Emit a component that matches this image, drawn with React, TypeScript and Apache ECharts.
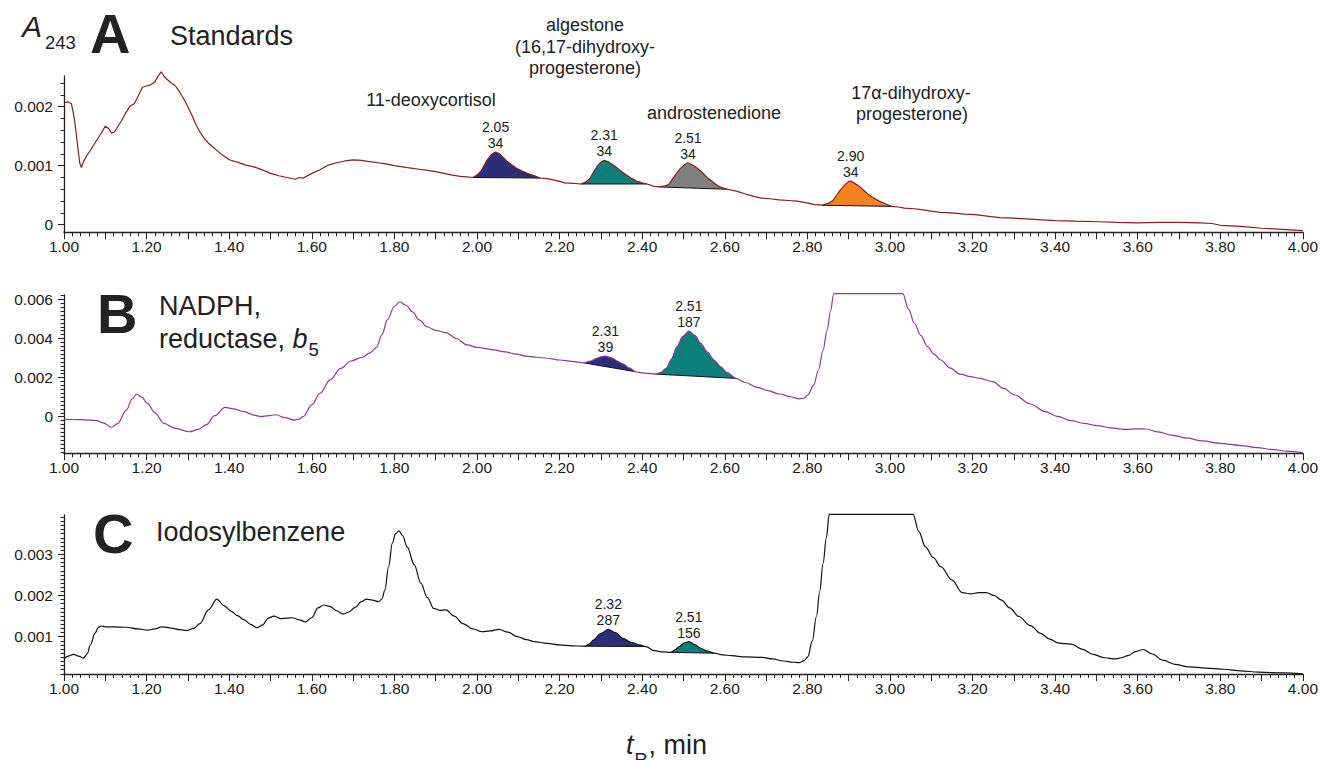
import React, { useEffect, useRef } from 'react';
import * as echarts from 'echarts';

const FONT = '"Liberation Sans", Arial, Helvetica, sans-serif';
const INK = '#1a1a1a';

// ---------- x axis (retention time, min) ----------
const X_MIN = 1.0;
const X_MAX = 4.0;
const X_STEP = 0.1;

// ---------- Panel A: Standards (absorbance ×10⁻³) ----------
const tA = [
  1.0, 1.01, 1.018, 1.025, 1.032, 1.038, 1.042, 1.048, 1.055, 1.062, 1.07, 1.08, 1.09, 1.1, 1.108, 1.115, 1.122, 1.13,
  1.14, 1.15, 1.16, 1.17, 1.18, 1.19, 1.2, 1.21, 1.22, 1.228, 1.235, 1.242, 1.25, 1.26, 1.27, 1.28, 1.29, 1.3, 1.31,
  1.32, 1.33, 1.34, 1.35, 1.36, 1.37, 1.38, 1.39, 1.4, 1.42, 1.44, 1.46, 1.48, 1.5, 1.52, 1.54, 1.56, 1.57, 1.58, 1.6,
  1.62, 1.64, 1.66, 1.68, 1.7, 1.72, 1.74, 1.76, 1.78, 1.8, 1.82, 1.84, 1.86, 1.88, 1.9, 1.92, 1.94, 1.96, 1.975,
  1.99, 2.0, 2.01, 2.023, 2.035, 2.045, 2.055, 2.062, 2.072, 2.083, 2.095, 2.109, 2.122, 2.135, 2.153,
  2.17, 2.19, 2.213, 2.235,
  2.252, 2.265, 2.274, 2.283, 2.291, 2.3, 2.308, 2.32, 2.334, 2.347, 2.36, 2.373, 2.386, 2.4, 2.412,
  2.429,
  2.442, 2.455, 2.464, 2.472, 2.481, 2.492, 2.503, 2.511, 2.522, 2.533, 2.546, 2.559, 2.572, 2.585, 2.597, 2.607,
  2.628, 2.65, 2.67, 2.689, 2.71, 2.732, 2.755, 2.775, 2.798, 2.818,
  2.835, 2.85, 2.862, 2.87, 2.879, 2.89, 2.9, 2.905, 2.915, 2.926, 2.937, 2.948, 2.961, 2.974, 2.99, 3.004,
  3.02, 3.035, 3.06, 3.08, 3.1, 3.121, 3.15, 3.18, 3.207, 3.24, 3.266, 3.3, 3.35, 3.4, 3.45, 3.508, 3.55, 3.6, 3.65,
  3.7, 3.751, 3.78, 3.8, 3.85, 3.9, 3.95, 4.0,
];
const absA = [
  2.07, 2.08, 2.05, 1.8, 1.4, 1.05, 0.97, 1.08, 1.17, 1.24, 1.33, 1.44, 1.55, 1.67, 1.63, 1.55, 1.57, 1.66,
  1.77, 1.9, 2.01, 2.05, 2.18, 2.33, 2.35, 2.37, 2.42, 2.52, 2.59, 2.52, 2.46, 2.4, 2.35, 2.25, 2.13, 2.0, 1.85,
  1.69, 1.56, 1.46, 1.38, 1.32, 1.26, 1.2, 1.15, 1.1, 1.06, 1.01, 0.98, 0.93, 0.87, 0.83, 0.8, 0.77, 0.8, 0.79, 0.87,
  0.93, 1.01, 1.05, 1.08, 1.1, 1.09, 1.07, 1.05, 1.03, 1.0, 0.98, 0.96, 0.94, 0.92, 0.9, 0.87, 0.84, 0.82, 0.81,
  0.8, 0.84, 0.91, 1.08, 1.19, 1.23, 1.2, 1.15, 1.08, 1.02, 0.96, 0.91, 0.87, 0.84, 0.79,
  0.78, 0.75, 0.71, 0.7,
  0.69, 0.73, 0.79, 0.9, 0.99, 1.06, 1.09, 1.06, 0.99, 0.92, 0.85, 0.79, 0.74, 0.71, 0.69,
  0.65,
  0.64, 0.66, 0.68, 0.76, 0.85, 0.95, 1.02, 1.05, 1.01, 0.96, 0.88, 0.79, 0.72, 0.65, 0.62, 0.6,
  0.57, 0.52, 0.48, 0.45, 0.44, 0.42, 0.41, 0.4, 0.37, 0.34,
  0.33, 0.36, 0.41, 0.49, 0.58, 0.67, 0.73, 0.74, 0.7, 0.65, 0.58, 0.51, 0.45, 0.4, 0.35, 0.31,
  0.3, 0.28, 0.27, 0.25, 0.23, 0.21, 0.2, 0.18, 0.17, 0.14, 0.12, 0.11, 0.09, 0.07, 0.06, 0.05, 0.04, 0.03, 0.04,
  0.04, 0.03, 0.02, -0.01, -0.03, -0.06, -0.08, -0.1,
];
const peakStartA = [1.99, 2.252, 2.442, 2.835];
const peakEndA = [2.153, 2.412, 2.607, 3.004];
const peakRtA = ['2.05', '2.31', '2.51', '2.90'];
const peakAreaA = ['34', '34', '34', '34'];
const peakColorA = ['#2b2e78', '#0c7f7a', '#808080', '#f5821f'];
const yTicksA = [0, 1, 2];
const yRangeA = [-0.129, 2.52];

// ---------- Panel B: NADPH, reductase, b5 ----------
const tB = [
  1.0, 1.04, 1.079, 1.095, 1.115, 1.13, 1.151, 1.165, 1.176, 1.188, 1.202, 1.22, 1.242, 1.27, 1.304, 1.325, 1.344,
  1.365, 1.39, 1.41, 1.436, 1.46, 1.477, 1.495, 1.513, 1.535, 1.558, 1.57, 1.579, 1.6, 1.62, 1.645, 1.67, 1.695,
  1.722, 1.74, 1.757, 1.77, 1.783, 1.8, 1.813, 1.828, 1.844, 1.86, 1.879, 1.9, 1.925, 1.95, 1.976, 2.0, 2.017, 2.04,
  2.068, 2.095, 2.119, 2.145, 2.17, 2.2, 2.23,
  2.257, 2.275, 2.29, 2.302, 2.311, 2.325, 2.34, 2.353, 2.37, 2.384,
  2.4, 2.414,
  2.432, 2.445, 2.458, 2.471, 2.484, 2.498, 2.513, 2.528, 2.542, 2.558, 2.574, 2.59, 2.606, 2.627,
  2.65, 2.679, 2.705, 2.732, 2.76, 2.78, 2.792, 2.801, 2.815, 2.827, 2.838, 2.848, 2.856, 2.864, 3.031, 3.045, 3.059,
  3.075, 3.091, 3.107, 3.123, 3.145, 3.17, 3.195, 3.218, 3.249, 3.275, 3.302, 3.34, 3.376, 3.405, 3.439, 3.47, 3.502,
  3.535, 3.566, 3.6, 3.619, 3.65, 3.682, 3.72, 3.756, 3.8, 3.851, 3.89, 3.924, 3.96, 4.0,
];
const absB = [
  -0.13, -0.15, -0.2, -0.32, -0.54, -0.35, 0.34, 0.9, 1.16, 1.0, 0.68, 0.2, -0.34, -0.6, -0.77, -0.65, -0.42,
  0.05, 0.48, 0.4, 0.26, 0.08, 0.0, 0.05, 0.1, -0.05, -0.17, -0.12, 0.0, 0.6, 1.2, 1.9, 2.47, 2.85,
  3.04, 3.25, 3.55, 4.2, 4.95, 5.65, 5.88, 5.7, 5.36, 4.95, 4.6, 4.42, 4.3, 4.0, 3.67, 3.55, 3.5, 3.42,
  3.32, 3.2, 3.1, 3.04, 2.99, 2.9, 2.83,
  2.76, 2.84, 2.98, 3.07, 3.1, 3.02, 2.85, 2.7, 2.48, 2.3,
  2.24, 2.22,
  2.18, 2.26, 2.47, 2.95, 3.58, 4.1, 4.38, 4.15, 3.75, 3.3, 2.9, 2.55, 2.25, 1.96,
  1.75, 1.5, 1.33, 1.16, 1.02, 0.91, 0.95, 1.11, 1.6, 2.39, 3.4, 4.43, 5.4, 6.3, 6.3, 5.5, 4.78,
  4.15, 3.58, 3.2, 2.9, 2.5, 2.18, 2.05, 1.96, 1.79, 1.45, 1.11, 0.65, 0.26, 0.02, -0.2, -0.34, -0.46,
  -0.57, -0.65, -0.62, -0.63, -0.78, -0.94, -1.1, -1.24, -1.36, -1.48, -1.58, -1.67, -1.76, -1.84,
];
const peakStartB = [2.257, 2.432];
const peakEndB = [2.384, 2.627];
const peakRtB = ['2.31', '2.51'];
const peakAreaB = ['39', '187'];
const peakColorB = ['#2b2e78', '#0c7f7a'];
const yTicksB = [0, 2, 4, 6];
const yRangeB = [-1.872, 6.225];

// ---------- Panel C: Iodosylbenzene ----------
const tC = [
  1.0, 1.01, 1.023, 1.035, 1.047, 1.056, 1.064, 1.075, 1.083, 1.09, 1.1, 1.12, 1.151, 1.18, 1.202, 1.22, 1.237,
  1.26, 1.28, 1.298, 1.315, 1.329, 1.35, 1.37, 1.388, 1.406, 1.42, 1.436, 1.452, 1.467, 1.48, 1.495, 1.508, 1.524,
  1.54, 1.553, 1.57, 1.584, 1.6, 1.615, 1.628, 1.645, 1.66, 1.676, 1.69, 1.705, 1.72, 1.732, 1.747, 1.762, 1.77,
  1.777, 1.786, 1.795, 1.803, 1.811, 1.82, 1.831, 1.848, 1.864, 1.88, 1.895, 1.91, 1.925, 1.945, 1.966, 1.99, 2.012,
  2.032, 2.053, 2.075, 2.098, 2.12, 2.139, 2.17, 2.2, 2.23,
  2.261, 2.272, 2.282, 2.3, 2.318, 2.335, 2.353, 2.375, 2.394, 2.409,
  2.43, 2.45,
  2.469, 2.48, 2.49, 2.502, 2.513, 2.527, 2.542, 2.558, 2.574,
  2.595, 2.616, 2.65, 2.69, 2.715, 2.743, 2.765, 2.78, 2.792, 2.801, 2.812, 2.822, 2.83, 2.838, 2.846, 2.853,
  3.056, 3.07, 3.086, 3.105, 3.123, 3.15, 3.175, 3.196, 3.215, 3.233, 3.252, 3.27, 3.29, 3.312, 3.34, 3.365, 3.387,
  3.407, 3.425, 3.439, 3.465, 3.492, 3.52, 3.545, 3.56, 3.576, 3.595, 3.613, 3.635, 3.661, 3.69, 3.724, 3.765,
  3.809, 3.85, 3.893, 3.95, 4.0,
];
const absC = [
  0.46, 0.53, 0.57, 0.53, 0.48, 0.58, 0.8, 1.08, 1.22, 1.26, 1.24, 1.24, 1.23, 1.19, 1.16, 1.19, 1.24,
  1.21, 1.17, 1.15, 1.21, 1.32, 1.65, 1.91, 1.75, 1.61, 1.51, 1.41, 1.3, 1.22, 1.28, 1.45, 1.5, 1.44,
  1.45, 1.46, 1.41, 1.36, 1.46, 1.7, 1.77, 1.73, 1.63, 1.55, 1.6, 1.71, 1.85, 1.91, 1.89, 1.85, 1.92,
  2.13, 2.7, 3.27, 3.5, 3.57, 3.45, 3.18, 2.75, 2.3, 1.95, 1.69, 1.64, 1.65, 1.5, 1.32, 1.19, 1.12,
  1.14, 1.18, 1.11, 1.0, 0.93, 0.88, 0.84, 0.8, 0.78,
  0.77, 0.82, 0.92, 1.08, 1.18, 1.1, 0.96, 0.86, 0.8, 0.76,
  0.66, 0.63,
  0.62, 0.68, 0.76, 0.85, 0.88, 0.81, 0.72, 0.65, 0.6,
  0.56, 0.54, 0.51, 0.5, 0.46, 0.41, 0.38, 0.37, 0.42, 0.51, 0.9, 1.49, 2.1, 2.78, 3.4, 3.97,
  3.97, 3.55, 3.18, 2.92, 2.7, 2.38, 2.07, 2.04, 2.07, 2.07, 2.0, 1.89, 1.7, 1.49, 1.27, 1.08, 0.94,
  0.85, 0.83, 0.82, 0.7, 0.57, 0.49, 0.46, 0.49, 0.54, 0.64, 0.69, 0.58, 0.43, 0.33, 0.27, 0.24,
  0.21, 0.17, 0.14, 0.12, 0.1,
];
const peakStartC = [2.261, 2.469];
const peakEndC = [2.409, 2.574];
const peakRtC = ['2.32', '2.51'];
const peakAreaC = ['287', '156'];
const peakColorC = ['#2b2e78', '#0c7f7a'];
const yTicksC = [1, 2, 3];
const yRangeC = [0.095, 3.954];

// ---------- layout ----------
const GRIDS = [
  { top: 76, height: 156.3 },
  { top: 295, height: 158.3 },
  { top: 515, height: 159 },
];

function minorTicks(lo: number, hi: number, step: number, majors: number[]) {
  const out: number[] = [];
  const n0 = Math.ceil(lo / step - 1e-9);
  const n1 = Math.floor(hi / step + 1e-9);
  for (let n = n0; n <= n1; n++) {
    const v = Math.round(n * step * 10000) / 10000;
    if (!majors.some((m) => Math.abs(m - v) < 1e-9)) out.push(v);
  }
  return out;
}

function makePeakRenderer(
  ts: number[], ys: number[], starts: number[], ends: number[],
  rts: string[], areas: string[], colors: string[],
) {
  return (params: any, api: any) => {
    const i = params.dataIndex;
    const pts: number[][] = [];
    let apexK = -1;
    let apexV = -Infinity;
    for (let k = 0; k < ts.length; k++) {
      if (ts[k] >= starts[i] - 1e-9 && ts[k] <= ends[i] + 1e-9) {
        pts.push(api.coord([ts[k], ys[k]]));
        if (ys[k] > apexV) { apexV = ys[k]; apexK = k; }
      }
    }
    const first = pts[0];
    const last = pts[pts.length - 1];
    const apex = api.coord([ts[apexK], ys[apexK]]);
    const txt = (text: string, dy: number) => ({
      type: 'text',
      style: {
        text, x: apex[0], y: apex[1] - dy,
        align: 'center', verticalAlign: 'middle', textAlign: 'center', textVerticalAlign: 'middle',
        fontSize: 14, fontFamily: FONT, fill: INK,
      },
    });
    return {
      type: 'group',
      children: [
        { type: 'polygon', shape: { points: pts }, style: { fill: colors[i], stroke: 'none' } },
        { type: 'line', shape: { x1: first[0], y1: first[1], x2: last[0], y2: last[1] }, style: { stroke: '#111', lineWidth: 1 } },
        txt(rts[i], 25),
        txt(areas[i], 9),
      ],
    };
  };
}

function measure(text: string, font: string) {
  const c = document.createElement('canvas').getContext('2d');
  if (!c) return text.length * 10;
  c.font = font;
  return c.measureText(text).width;
}

function gText(text: string, x: number, y: number, size: number, opts: any = {}) {
  return {
    type: 'text',
    x, y,
    silent: true,
    style: {
      text,
      fontSize: size,
      fontFamily: FONT,
      fontWeight: opts.weight || 'normal',
      fontStyle: opts.italic ? 'italic' : 'normal',
      fill: opts.fill || '#222',
      align: opts.align || 'left',
      textAlign: opts.align || 'left',
      verticalAlign: 'middle',
      textVerticalAlign: 'middle',
    },
  };
}

export default function App() {
  const ref = useRef<HTMLDivElement>(null);

  useEffect(() => {
    if (!ref.current) return;
    const chart = echarts.init(ref.current, null, { renderer: 'svg' });

    const panels = [
      { t: tA, y: absA, range: yRangeA, majors: yTicksA, minorStep: 0.2, color: '#8b1d1d', smooth: false,
        ps: peakStartA, pe: peakEndA, rt: peakRtA, ar: peakAreaA, pc: peakColorA },
      { t: tB, y: absB, range: yRangeB, majors: yTicksB, minorStep: 0.2, color: '#8d3a96', smooth: 0.35,
        ps: peakStartB, pe: peakEndB, rt: peakRtB, ar: peakAreaB, pc: peakColorB },
      { t: tC, y: absC, range: yRangeC, majors: yTicksC, minorStep: 0.1, color: '#111111', smooth: 0.35,
        ps: peakStartC, pe: peakEndC, rt: peakRtC, ar: peakAreaC, pc: peakColorC },
    ];

    const grid = GRIDS.map((g) => ({ left: 64, right: 18, top: g.top, height: g.height, containLabel: false }));

    const xAxis = panels.map((_, i) => ({
      type: 'value',
      gridIndex: i,
      min: X_MIN,
      max: X_MAX,
      interval: X_STEP,
      axisLine: { show: true, onZero: false, lineStyle: { color: '#222', width: 1.3 } },
      axisTick: { show: true, length: 7, lineStyle: { color: '#222', width: 1 } },
      minorTick: { show: true, splitNumber: 5, length: 4, lineStyle: { color: '#222', width: 1 } },
      splitLine: { show: false },
      minorSplitLine: { show: false },
      axisLabel: {
        show: true,
        showMinLabel: true,
        showMaxLabel: true,
        margin: 6,
        fontSize: 15.5,
        fontFamily: FONT,
        color: INK,
        formatter: (v: number) => (Math.round(v * 10) % 2 === 0 ? v.toFixed(2) : ''),
      },
    }));

    const yAxis: any[] = [];
    panels.forEach((p, i) => {
      yAxis.push({
        type: 'value',
        gridIndex: i,
        position: 'left',
        min: p.range[0],
        max: p.range[1],
        axisLine: { show: true, onZero: false, lineStyle: { color: '#222', width: 1.3 } },
        axisTick: { show: true, length: 6, customValues: p.majors, lineStyle: { color: '#222', width: 1 } },
        axisLabel: {
          show: true,
          customValues: p.majors,
          margin: 11,
          fontSize: 15.5,
          fontFamily: FONT,
          color: INK,
          formatter: (v: number) => (Math.abs(v) < 1e-9 ? '0' : (v / 1000).toFixed(3)),
        },
        splitLine: { show: false },
      });
      const minors = minorTicks(p.range[0], p.range[1], p.minorStep, p.majors);
      yAxis.push({
        type: 'value',
        gridIndex: i,
        position: 'left',
        offset: 0,
        min: p.range[0],
        max: p.range[1],
        axisLine: { show: false },
        axisTick: { show: true, length: 3.5, customValues: minors, lineStyle: { color: '#222', width: 1 } },
        axisLabel: { show: false, customValues: minors },
        splitLine: { show: false },
      });
    });

    const series: any[] = [];
    panels.forEach((p, i) => {
      series.push({
        type: 'custom',
        coordinateSystem: 'cartesian2d',
        xAxisIndex: i,
        yAxisIndex: i * 2,
        z: 1,
        silent: true,
        clip: false,
        renderItem: makePeakRenderer(p.t, p.y, p.ps, p.pe, p.rt, p.ar, p.pc),
        encode: { x: 0, y: 1 },
        data: p.ps.map((s, k) => [s, p.y[p.t.indexOf(s)] ?? 0, k]),
      });
      series.push({
        type: 'line',
        xAxisIndex: i,
        yAxisIndex: i * 2,
        z: 3,
        silent: true,
        clip: false,
        symbol: 'none',
        showSymbol: false,
        smooth: p.smooth,
        smoothMonotone: 'x',
        lineStyle: { color: p.color, width: 1.2 },
        data: p.t.map((x, k) => [x, p.y[k]]),
      });
    });

    const bFont = '27px "Liberation Sans"';
    const bItal = 'italic 27px "Liberation Sans"';
    const redW = measure('reductase, ', bFont);
    const bW = measure('b', bItal);
    const tW = measure('t', bItal);
    const rW = measure('R', '18px "Liberation Sans"');

    const graphic = [
      gText('A', 22, 26, 30, { italic: true }),
      gText('243', 45, 42, 18.5),
      gText('A', 90, 33, 56, { weight: 'bold' }),
      gText('Standards', 170, 36, 27),
      gText('11-deoxycortisol', 431, 100, 18, { align: 'center' }),
      gText('algestone', 585, 25, 18, { align: 'center' }),
      gText('(16,17-dihydroxy-', 585, 46.5, 18, { align: 'center' }),
      gText('progesterone)', 585, 68, 18, { align: 'center' }),
      gText('androstenedione', 714, 112.5, 18, { align: 'center' }),
      gText('17\u03b1-dihydroxy-', 911, 92.5, 18, { align: 'center' }),
      gText('progesterone)', 912, 114, 18, { align: 'center' }),

      gText('B', 97, 313, 56, { weight: 'bold' }),
      gText('NADPH,', 159, 306, 27),
      gText('reductase, ', 159, 339, 27),
      gText('b', 159 + redW, 339, 27, { italic: true }),
      gText('5', 159 + redW + bW + 1, 349, 18.5),

      gText('C', 93, 533, 56, { weight: 'bold' }),
      gText('Iodosylbenzene', 156, 532, 27),

      gText('t', 626, 745, 27, { italic: true }),
      gText('R', 626 + tW + 1, 760, 18),
      gText(', min', 626 + tW + rW + 2, 745, 27),
    ];

    chart.setOption({
      animation: false,
      backgroundColor: '#ffffff',
      grid,
      xAxis,
      yAxis,
      series,
      graphic,
    });

    return () => chart.dispose();
  }, []);

  return (
    <div
      ref={ref}
      style={{ position: 'absolute', left: 0, top: 0, width: 1321, height: 760, background: '#fff' }}
    />
  );
}
